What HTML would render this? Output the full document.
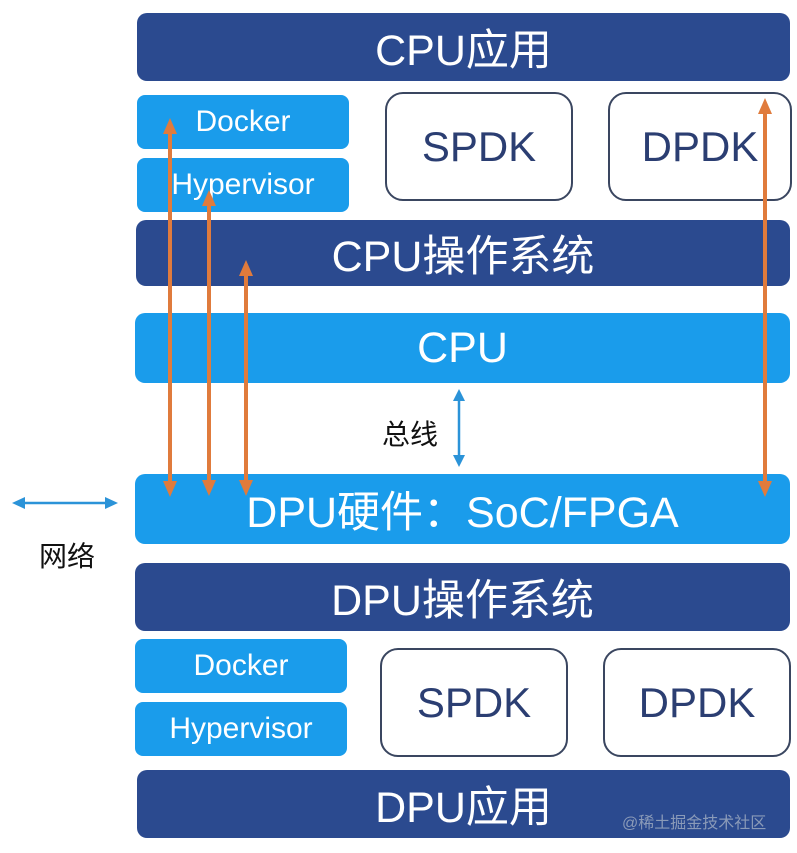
<!DOCTYPE html>
<html><head><meta charset="utf-8"><style>
body{margin:0;width:797px;height:853px;background:#fff;position:relative;overflow:hidden;font-family:"Liberation Sans","Noto Sans CJK SC",sans-serif}
.b{position:absolute;border-radius:10px;display:flex;align-items:center;justify-content:center;color:#fff}
.d{background:#2b4a8f;font-size:43px}
.l{background:#1a9ceb;font-size:43px}
.s{background:#1a9ceb;font-size:30px;border-radius:8px}
.w{background:#fff;border:2px solid #3a4660;color:#2b3e72;font-size:42px;border-radius:18px;box-sizing:border-box}
.t{position:absolute;color:#111;font-size:28px}
</style></head><body>
<div class="b d" style="left:137px;top:13px;width:653px;height:68px">CPU应用</div>
<div class="b s" style="left:137px;top:95px;width:212px;height:54px">Docker</div>
<div class="b s" style="left:137px;top:158px;width:212px;height:54px">Hypervisor</div>
<div class="b w" style="left:385px;top:92px;width:188px;height:109px">SPDK</div>
<div class="b w" style="left:608px;top:92px;width:184px;height:109px">DPDK</div>
<div class="b d" style="left:136px;top:220px;width:654px;height:66px">CPU操作系统</div>
<div class="b l" style="left:135px;top:313px;width:655px;height:70px">CPU</div>
<div class="t" style="left:382px;top:413px">总线</div>
<div class="b l" style="left:135px;top:474px;width:655px;height:70px">DPU硬件：SoC/FPGA</div>
<div class="t" style="left:39px;top:535px">网络</div>
<div class="b d" style="left:135px;top:563px;width:655px;height:68px">DPU操作系统</div>
<div class="b s" style="left:135px;top:639px;width:212px;height:54px">Docker</div>
<div class="b s" style="left:135px;top:702px;width:212px;height:54px">Hypervisor</div>
<div class="b w" style="left:380px;top:648px;width:188px;height:109px">SPDK</div>
<div class="b w" style="left:603px;top:648px;width:188px;height:109px">DPDK</div>
<div class="b d" style="left:137px;top:770px;width:653px;height:68px">DPU应用</div>
<div style="position:absolute;left:622px;top:809px;color:#8a9ab8;font-size:16px">@稀土掘金技术社区</div>
<svg width="797" height="853" style="position:absolute;left:0;top:0">
<g stroke="#e07b3c" stroke-width="4" fill="#e07b3c">
<line x1="170" y1="130" x2="170" y2="485"/><polygon points="170,118 163,134 177,134" stroke="none"/><polygon points="170,497 163,481 177,481" stroke="none"/>
<line x1="209" y1="202" x2="209" y2="484"/><polygon points="209,190 202,206 216,206" stroke="none"/><polygon points="209,496 202,480 216,480" stroke="none"/>
<line x1="246" y1="272" x2="246" y2="484"/><polygon points="246,260 239,276 253,276" stroke="none"/><polygon points="246,496 239,480 253,480" stroke="none"/>
<line x1="765" y1="110" x2="765" y2="485"/><polygon points="765,98 758,114 772,114" stroke="none"/><polygon points="765,497 758,481 772,481" stroke="none"/>
</g>
<g stroke="#2b93d8" stroke-width="2.5" fill="#2b93d8">
<line x1="459" y1="398" x2="459" y2="458"/><polygon points="459,389 453,401 465,401" stroke="none"/><polygon points="459,467 453,455 465,455" stroke="none"/>
<line x1="22" y1="503" x2="108" y2="503"/><polygon points="12,503 25,497 25,509" stroke="none"/><polygon points="118,503 105,497 105,509" stroke="none"/>
</g>
</svg>
</body></html>
